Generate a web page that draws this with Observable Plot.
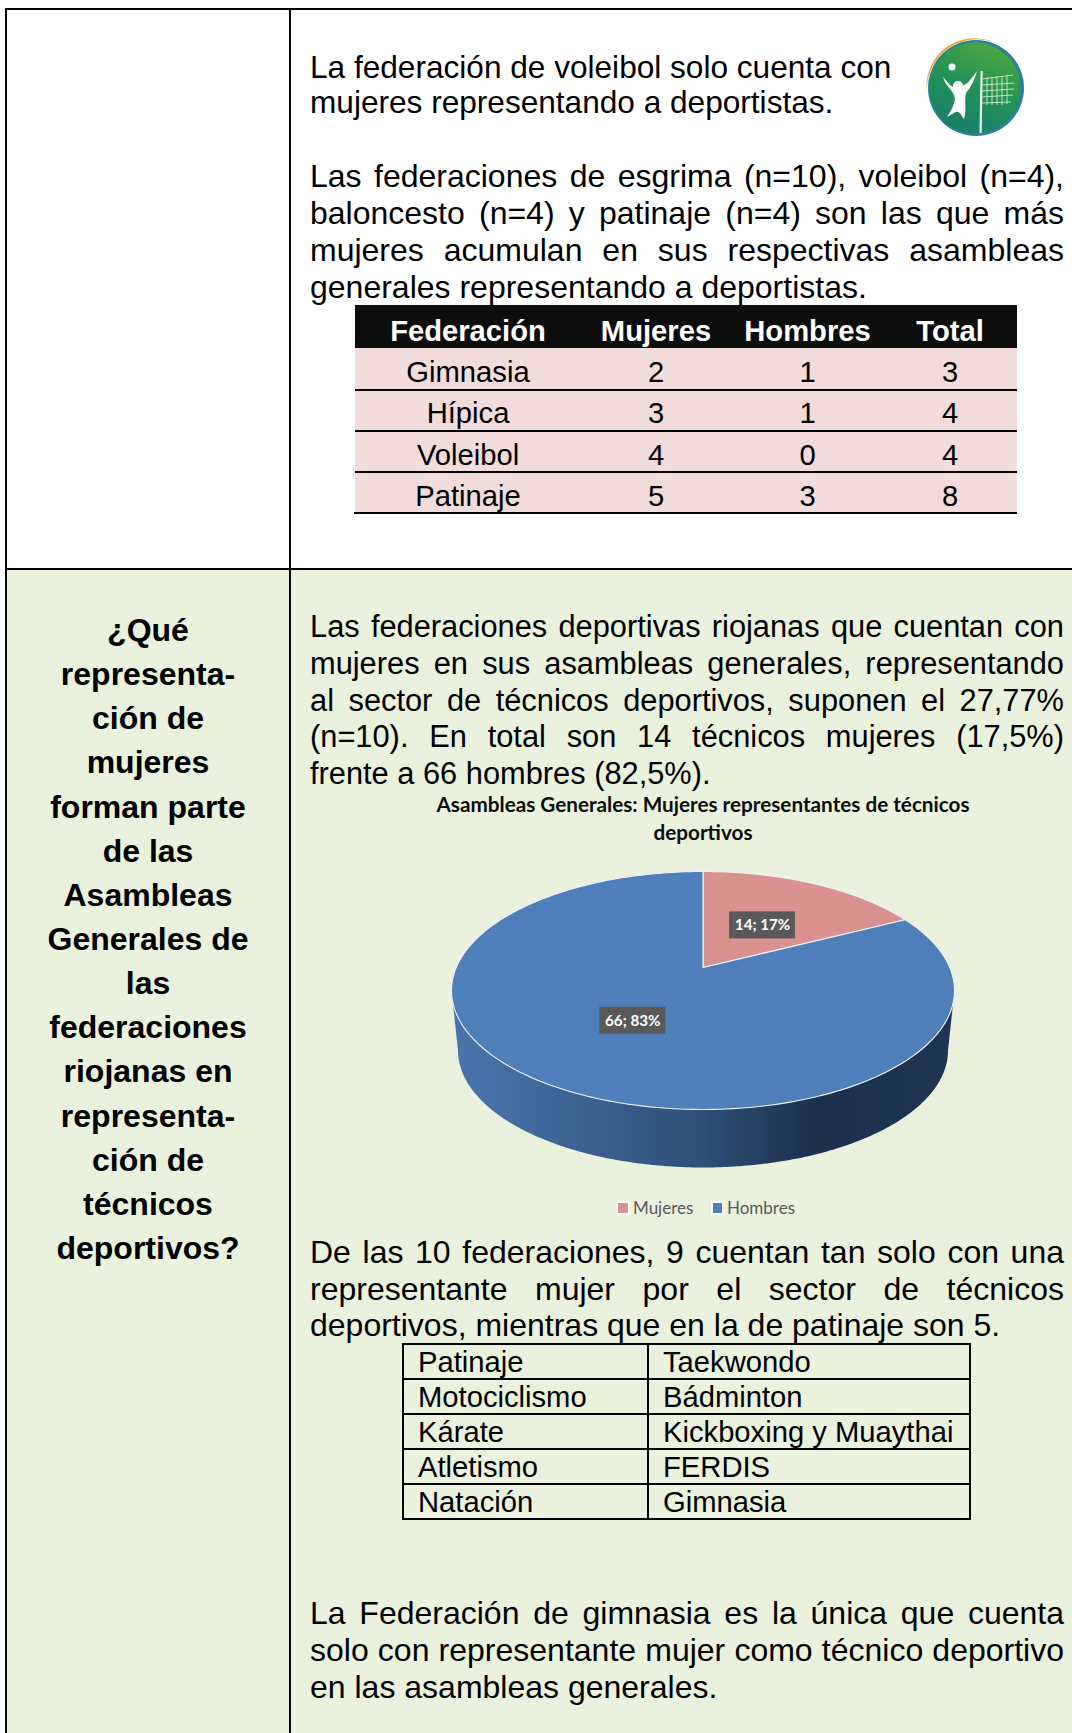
<!DOCTYPE html>
<html lang="es"><head><meta charset="utf-8">
<script src="https://cdn.jsdelivr.net/npm/d3@7"></script>
<script src="https://cdn.jsdelivr.net/npm/@observablehq/plot@0.6"></script>
<style>
html,body{margin:0;padding:0;background:#fff}
#page{position:relative;width:1072px;height:1733px;overflow:hidden;font-family:"Liberation Sans",Arial,sans-serif;color:#000}
.box{position:absolute}
.t{position:absolute;line-height:0;white-space:nowrap}
</style></head><body><div id="page"></div>
<script>
// ---------- data ----------
const sectores = ["Mujeres", "Hombres"];
const valores = [14, 66];
const etiquetas = ["14; 17%", "66; 83%"];
const colores = ["#d99290", "#4e7fbb"];
const tituloGrafico = ["Asambleas Generales: Mujeres representantes de técnicos", "deportivos"];

const federaciones = ["Gimnasia", "Hípica", "Voleibol", "Patinaje"];
const mujeres = [2, 3, 4, 5];
const hombres = [1, 1, 0, 3];
const totales = [3, 4, 4, 8];
const cabecera = ["Federación", "Mujeres", "Hombres", "Total"];

const tecnicasIzq = ["Patinaje", "Motociclismo", "Kárate", "Atletismo", "Natación"];
const tecnicasDer = ["Taekwondo", "Bádminton", "Kickboxing y Muaythai", "FERDIS", "Gimnasia"];

const pregunta = ["¿Qué", "representa-", "ción de", "mujeres", "forman parte", "de las", "Asambleas", "Generales de", "las", "federaciones", "riojanas en", "representa-", "ción de", "técnicos", "deportivos?"];

const parrafos = [
  {s: 31.6, y: [77.5, 113], w: [0, 0], l: ["La federación de voleibol solo cuenta con", "mujeres representando a deportistas."]},
  {s: 32, y: [187.5, 224.5, 261.5, 298.5], w: [1, 1, 1, 0], l: ["Las federaciones de esgrima (n=10), voleibol (n=4),", "baloncesto (n=4) y patinaje (n=4) son las que más", "mujeres acumulan en sus respectivas asambleas", "generales representando a deportistas."]},
  {s: 30.8, y: [638, 675, 712, 748, 785], w: [1, 1, 1, 1, 0], l: ["Las federaciones deportivas riojanas que cuentan con", "mujeres en sus asambleas generales, representando", "al sector de técnicos deportivos, suponen el 27,77%", "(n=10). En total son 14 técnicos mujeres (17,5%)", "frente a 66 hombres (82,5%)."]},
  {s: 32, y: [1263.5, 1300, 1336.5], w: [1, 1, 0], l: ["De las 10 federaciones, 9 cuentan tan solo con una", "representante mujer por el sector de técnicos", "deportivos, mientras que en la de patinaje son 5."]},
  {s: 32, y: [1624, 1661, 1698], w: [1, 1, 0], l: ["La Federación de gimnasia es la única que cuenta", "solo con representante mujer como técnico deportivo", "en las asambleas generales."]}
];

// ---------- page helpers ----------
const page = document.getElementById("page");
function box(x, y, w, h, bg) {
  const d = document.createElement("div");
  d.className = "box";
  d.style.cssText = `left:${x}px;top:${y}px;width:${w}px;height:${h}px;background:${bg}`;
  page.appendChild(d);
}
function text(x, base, s, o = {}) {
  const size = o.size || 29.2, d = document.createElement("div");
  d.className = "t";
  d.textContent = s;
  let css = `top:${base - 0.3465 * size}px;font-size:${size}px;left:${x}px;`;
  if (o.bold) css += "font-weight:700;";
  if (o.color) css += `color:${o.color};`;
  if (o.center) css += "transform:translateX(-50%);";
  d.style.cssText = css;
  page.appendChild(d);
  if (o.width) {
    // justified line: spread or tighten the word gaps to fill the column
    const gaps = s.split(" ").length - 1;
    d.style.wordSpacing = `${(o.width - d.getBoundingClientRect().width) / gaps}px`;
  }
}

// backgrounds and cell borders
box(6, 569, 1066, 1164, "#eaf1dd");
box(5, 8, 1067, 2, "#000");
box(5, 8, 2, 1725, "#000");
box(289, 8, 2, 1725, "#000");
box(5, 568, 1067, 2, "#000");

// paragraphs
for (const p of parrafos) p.l.forEach((s, i) => text(310, p.y[i], s, {size: p.s, width: p.w[i] ? 754 : 0}));

// left question
pregunta.forEach((s, i) => text(148, 641 + i * 44.15, s, {bold: true, size: 32, center: true}));

// table 1
const col1 = [468, 656, 807.5, 950];
box(355, 305, 662, 43, "#0d0d0d");
box(355, 348, 662, 165, "#f2dbdb");
[388.5, 429.5, 470.5].forEach(y => box(355, y, 662, 2, "#000"));
box(353.5, 512, 663.5, 2, "#000");
cabecera.forEach((s, i) => text(col1[i], 341, s, {bold: true, center: true, color: "#fff"}));
const base1 = [382, 423, 465, 506];
federaciones.forEach((f, i) => {
  [f, mujeres[i], hombres[i], totales[i]].forEach((v, j) => text(col1[j], base1[i], String(v), {center: true}));
});

// table 2
const rows2 = [1344, 1379, 1414, 1449, 1484, 1519];
rows2.forEach(y => box(403, y - 1, 568, 2, "#000"));
[403, 648, 970].forEach(x => box(x - 1, 1343, 2, 177, "#000"));
const base2 = [1372, 1407, 1442, 1477, 1512];
tecnicasIzq.forEach((s, i) => text(418, base2[i], s));
tecnicasDer.forEach((s, i) => text(663, base2[i], s));

// volleyball badge (decorative)
const badge = document.createElementNS("http://www.w3.org/2000/svg", "svg");
badge.setAttribute("width", 110); badge.setAttribute("height", 110);
badge.setAttribute("viewBox", "0 0 110 110");
badge.style.cssText = "position:absolute;left:921px;top:33px";
badge.innerHTML = `
<defs><linearGradient id="bg" x1="0.7" y1="0" x2="0.3" y2="1"><stop offset="0" stop-color="#4ea63f"/><stop offset=".5" stop-color="#229257"/><stop offset="1" stop-color="#1a7d6c"/></linearGradient></defs>
<circle cx="55" cy="55" r="48" fill="#2a7f9a"/>
<path d="M6 60 A48 48 0 0 1 72 9 A50 50 0 0 0 6 60Z" fill="#e9a52b"/>
<circle cx="54" cy="55" r="45.5" fill="url(#bg)"/>
<circle cx="31" cy="34" r="3.5" fill="#fff"/>
<path d="M22 44 C25 54 30 55 33 62 C36 68 30 78 26 84 L33 80 C38 76 40 82 43 86 C46 78 43 68 45 60 C50 54 54 46 56 38 C50 46 46 52 42 52 A5 5 0 1 0 32 54 C28 52 26 48 22 44Z" fill="#fff"/>
<rect x="59" y="38" width="2.2" height="62" fill="#fff" opacity=".9" transform="rotate(1 60 70)"/>
<g stroke="#d9efc4" stroke-width="1" opacity=".85" fill="none">
<path d="M61 46 L92 42 M61 52 L93 50 M61 58 L93 56 M61 64 L92 62 M61 70 L90 69 M66 44 V72 M71 44 V72 M76 43 V72 M81 43 V72 M86 43 V71"/></g>`;
page.appendChild(badge);

// ---------- chart drawn with Plot ----------
// perspective disc: unit circle -> page coordinates of a tilted pie
const tilt = 0.193, squash = Math.sqrt(1 - tilt * tilt);
const disc = (c) => (u, v) => {
  const d = 1 + tilt * v;
  return [c.cx + c.rx * squash * u / d, c.cy - c.ry * (v + tilt) / d];
};
const topDisc = disc({cx: 702.5, cy: 990, rx: 251.5, ry: 119});
const botDisc = disc({cx: 702.5, cy: 1050, rx: 245, ry: 117});
const onCircle = (f, th, r = 1) => f(r * Math.sin(th), r * Math.cos(th));
const arc = (f, a, b) => d3.range(0, 241).map(i => onCircle(f, a + (b - a) * i / 240));

const pie = d3.pie().sort(null).value(d => d.v)(sectores.map((s, i) => ({s, v: valores[i], c: colores[i], e: etiquetas[i]})));
const slices = pie.map(p => ({...p.data, a: p.startAngle, b: p.endAngle, path: [onCircle(topDisc, 0, 0), ...arc(topDisc, p.startAngle, p.endAngle), onCircle(topDisc, 0, 0)]}));

// visible side wall: between the left and right extremes of both rims
const frontA = Math.PI / 2 + Math.asin(tilt), frontB = 3 * Math.PI / 2 - Math.asin(tilt);
const side = [...arc(topDisc, frontA, frontB), ...arc(botDisc, frontB, frontA)];

const labelDy = [3, 0];
const labels = slices.map((s, i) => {
  const m = (s.a + s.b) / 2, [x, y] = onCircle(topDisc, m, 0.5);
  return {x, y: y + labelDy[i], e: s.e};
});
const legend = [
  {s: sectores[0], c: colores[0], x1: 617, x2: 629, tx: 632.5},
  {s: sectores[1], c: colores[1], x1: 712, x2: 723, tx: 726.5}
];

const X0 = 430, X1 = 980, Y0 = 790, Y1 = 1225;
const font = "Lato, 'Open Sans', sans-serif";
const defs = () => {
  const d = d3.create("svg:defs");
  const g = d.append("linearGradient").attr("id", "lado");
  [[0, "#4a75ab"], [0.18, "#41689a"], [0.5, "#2e4f77"], [0.72, "#1c304c"], [1, "#1f3553"]]
    .forEach(([o, c]) => g.append("stop").attr("offset", o).attr("stop-color", c));
  return d.node();
};
const chart = Plot.plot({
  width: X1 - X0, height: Y1 - Y0, margin: 0,
  x: {domain: [X0, X1], range: [0, X1 - X0], axis: null},
  y: {domain: [Y0, Y1], range: [0, Y1 - Y0], axis: null},
  style: {background: "transparent"},
  marks: [
    defs,
    Plot.line(side, {x: d => d[0], y: d => d[1], fill: "url(#lado)", stroke: "none"}),
    ...slices.map(s => Plot.line(s.path, {x: d => d[0], y: d => d[1], fill: s.c, stroke: "#eef2f8", strokeWidth: 1.1, strokeLinejoin: "round"})),
    Plot.rect(labels, {x1: d => d.x - 33, x2: d => d.x + 33, y1: d => d.y - 13.5, y2: d => d.y + 13.5, fill: "#595959"}),
    Plot.text(labels, {x: "x", y: "y", text: "e", fill: "#fff", fontFamily: font, fontWeight: 700, fontSize: 15.2}),
    Plot.text(tituloGrafico, {x: () => 702.5, y: (d, i) => 805 + i * 28, text: d => d, fill: "#0d0d0d", fontFamily: font, fontWeight: 700, fontSize: 20.7}),
    Plot.rect(legend, {x1: "x1", x2: "x2", y1: () => 1202, y2: () => 1214, fill: "c", stroke: "#fff", strokeWidth: 2}),
    Plot.text(legend, {x: "tx", y: () => 1208, text: "s", textAnchor: "start", fill: "#595959", fontFamily: font, fontSize: 17})
  ]
});
const wrap = document.createElement("div");
wrap.style.cssText = `position:absolute;left:${X0}px;top:${Y0}px;width:${X1 - X0}px;height:${Y1 - Y0}px`;
wrap.appendChild(chart);
page.appendChild(wrap);
</script></body></html>
